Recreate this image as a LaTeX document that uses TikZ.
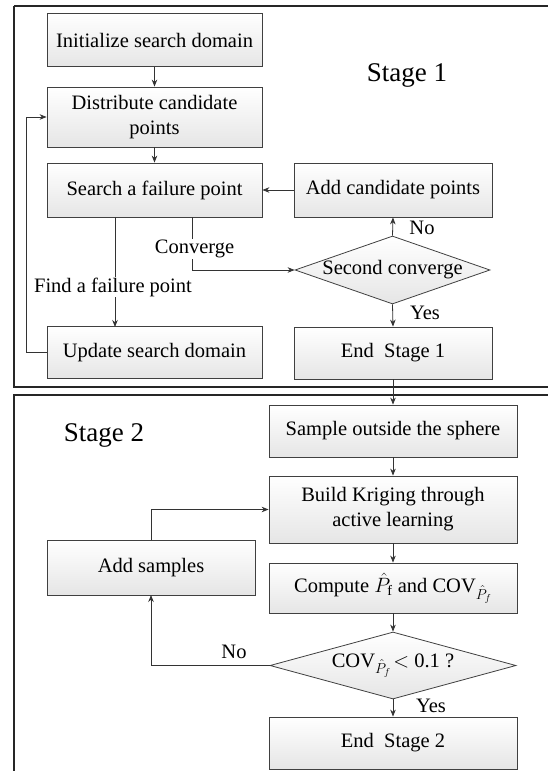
\documentclass[tikz,border=0pt]{standalone}
\usepackage{fontspec}
\setmainfont{Liberation Serif}
\usetikzlibrary{shapes.geometric,arrows.meta}
\begin{document}
\begin{tikzpicture}[x=1pt,y=-1pt,
  every node/.style={font=\fontsize{20.5}{25}\selectfont},
  box/.style={draw=black!75,line width=0.8pt,top color=white,bottom color=black!10,
    rectangle,inner sep=0pt,align=center},
  dia/.style={draw=black!75,line width=0.8pt,top color=white,bottom color=black!10,
    diamond,inner sep=0pt,align=center},
  frame/.style={draw=black!85,line width=1.1pt},
  conn/.style={draw=black!80,line width=0.8pt},
  arr/.style={conn,-{Stealth[length=7pt,width=5.5pt]}},
  lbl/.style={fill=white,inner sep=1pt},
  stagelbl/.style={font=\fontsize{27}{30}\selectfont}]
\useasboundingbox (0,0) rectangle (548,771);
\fill[white] (0,0) rectangle (548,771);
% frames
\draw[frame] (14,6) -- (560,6);
\draw[frame] (14,6) -- (14,387) -- (560,387);
\draw[frame] (560,395) -- (14,395) -- (14,790);
% stage 1 nodes
\node[box,minimum width=215pt,minimum height=53pt] (init) at (154.5,40) {Initialize search domain};
\node[box,minimum width=215pt,minimum height=60pt] (dist) at (154.5,117) {Distribute candidate\\points};
\node[box,minimum width=215pt,minimum height=54pt] (search) at (154.5,190) {Search a failure point};
\node[box,minimum width=198pt,minimum height=54pt] (addc) at (393,190) {Add candidate points};
\node[box,minimum width=215pt,minimum height=52pt] (upd) at (154.5,352.5) {Update search domain};
\node[box,minimum width=198pt,minimum height=52pt] (end1) at (393,353) {End\ \ Stage 1};
\node[dia,minimum width=195pt,minimum height=68pt,aspect=2.87] (d1) at (392.5,270) {};
\node at (d1.center) {Second converge};
\node[stagelbl] (s1) at (407,75) {Stage 1};
% stage 2 nodes
\node[box,minimum width=248pt,minimum height=52pt] (samp) at (393,431) {Sample outside the sphere};
\node[box,minimum width=248pt,minimum height=67pt] (build) at (393,509.5) {Build Kriging through\\active learning};
\node[box,minimum width=248pt,minimum height=50pt] (comp) at (393,588) {Compute $\hat{P}_{\mathrm{f}}$ and COV$_{\hat{P}_{f}}$};
\node[dia,minimum width=246pt,minimum height=67pt,aspect=3.67] (d2) at (393,665.5) {};
\node at (d2.center) {COV$_{\hat{P}_{f}}\!<$ 0.1 ?};
\node[box,minimum width=248pt,minimum height=52pt] (end2) at (393,743) {End\ \ Stage 2};
\node[box,minimum width=208pt,minimum height=55pt] (adds) at (151,567.5) {Add samples};
\node[stagelbl] (s2) at (104,435) {Stage 2};
% coordinates
\coordinate (sfp) at (115,217);
\coordinate (scv) at (192,217);
\coordinate (ucv) at (115,327);
\coordinate (lp1) at (26,352.5);
\coordinate (lp2) at (26,117);
\coordinate (cvc) at (192,270);
\coordinate (asT) at (151,540);
\coordinate (asC) at (151,509.5);
\coordinate (noC) at (151,665.5);
\coordinate (asB) at (151,595);
% connectors stage 1
\draw[arr] (init) -- (dist);
\draw[arr] (dist) -- (search);
\draw[arr] (addc.west) -- (search.east);
\draw[arr] (upd.west) -- (lp1) -- (lp2) -- (dist.west);
\draw[arr] (sfp) -- (ucv);
\node[lbl] (ffp) at (113,287) {Find a failure point};
\draw[arr] (scv) -- (cvc) -- (d1.west);
\node[lbl] (conv) at (194.5,249) {Converge};
\draw[arr] (d1.north) -- (addc.south);
\node (no1) at (422,228) {No};
\draw[arr] (d1.south) -- (end1.north);
\node (yes1) at (425,313) {Yes};
\draw[arr] (end1.south) -- (samp.north);
% connectors stage 2
\draw[arr] (samp) -- (build);
\draw[arr] (build) -- (comp);
\draw[arr] (comp) -- (d2.north);
\draw[arr] (d2.south) -- (end2.north);
\node (yes2) at (431,706) {Yes};
\draw[arr] (asT) -- (asC) -- (build.west);
\draw[arr] (d2.west) -- (noC) -- (asB);
\node (no2) at (234,652) {No};
\end{tikzpicture}
\end{document}
